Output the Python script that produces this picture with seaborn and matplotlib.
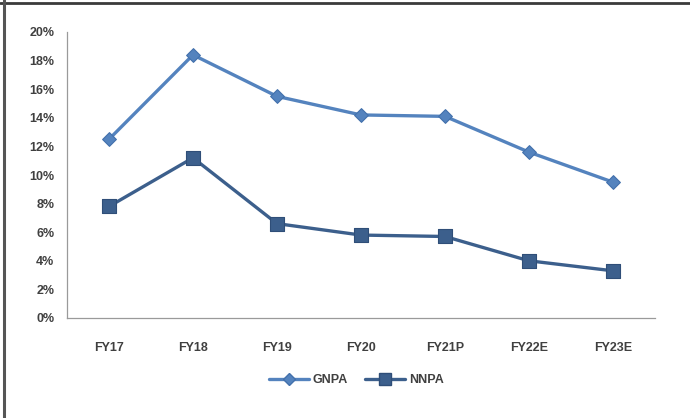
import matplotlib
matplotlib.use("Agg")
import matplotlib.pyplot as plt
from matplotlib.lines import Line2D
from matplotlib.ticker import PercentFormatter, FixedLocator, NullFormatter
import seaborn as sns
import pandas as pd

years = ["FY17", "FY18", "FY19", "FY20", "FY21P", "FY22E", "FY23E"]
gnpa = [12.5, 18.4, 15.5, 14.2, 14.1, 11.6, 9.5]
nnpa = [7.8, 11.2, 6.6, 5.8, 5.7, 4.0, 3.3]
series_names = ["GNPA", "NNPA"]
y_ticks = [0, 2, 4, 6, 8, 10, 12, 14, 16, 18, 20]

df = pd.DataFrame({
    "year": years * 2,
    "value": gnpa + nnpa,
    "series": [series_names[0]] * len(years) + [series_names[1]] * len(years),
})

sns.set_style("white")
plt.rcParams["font.family"] = ["Liberation Sans", "DejaVu Sans"]

fig = plt.figure(figsize=(6.9, 4.18), dpi=100)
ax = fig.add_axes([67 / 690, 1 - 318 / 418, (655 - 67) / 690, (318 - 32) / 418])

line_colors = {"GNPA": "#5483BE", "NNPA": "#3C5F8C"}
edge_colors = {"GNPA": "#4371AC", "NNPA": "#2F4E78"}
markers = {"GNPA": "D", "NNPA": "s"}
sizes = {"GNPA": 7, "NNPA": 10}

sns.lineplot(data=df, x="year", y="value", hue="series", palette=line_colors,
             sort=False, linewidth=2.4, legend=False, ax=ax)
for name, vals in zip(series_names, [gnpa, nnpa]):
    sns.scatterplot(x=years, y=vals, marker=markers[name], s=sizes[name] ** 2,
                    color=line_colors[name], edgecolor=edge_colors[name],
                    linewidth=0.8, zorder=5, ax=ax, legend=False)

ax.set_xlim(-0.5, len(years) - 0.5)
ax.set_ylim(0, 20)
ax.yaxis.set_major_locator(FixedLocator(y_ticks))
ax.yaxis.set_major_formatter(PercentFormatter(decimals=0))

# category labels centred, tick marks on category boundaries
ax.set_xticks(range(len(years)))
ax.set_xticklabels(years)
ax.tick_params(axis="x", which="major", length=0, pad=17)
ax.set_xticks([i - 0.5 for i in range(len(years) + 1)], minor=True)
ax.xaxis.set_minor_formatter(NullFormatter())
ax.tick_params(axis="x", which="minor", length=4, width=0.8, color="#9A9A9A", direction="out")
ax.tick_params(axis="y", length=4, width=0.8, color="#9A9A9A", direction="out", pad=5)
for lbl in ax.get_xticklabels() + ax.get_yticklabels():
    lbl.set_fontsize(9)
    lbl.set_fontweight("bold")
    lbl.set_color("#404040")

for side in ["top", "right"]:
    ax.spines[side].set_visible(False)
for side in ["left", "bottom"]:
    ax.spines[side].set_color("#9A9A9A")
    ax.spines[side].set_linewidth(0.9)
ax.set_xlabel("")
ax.set_ylabel("")

handles = [
    Line2D([], [], color=line_colors[n], marker=markers[n], markersize=sizes[n] * 0.85,
           markeredgecolor=edge_colors[n], linewidth=2.4, label=n)
    for n in series_names
]
fig.legend(handles=handles, loc="center", bbox_to_anchor=(356 / 690, 1 - 380 / 418),
           ncol=2, frameon=False, handlelength=3.2, columnspacing=1.4, handletextpad=0.3,
           prop={"weight": "bold", "size": 9})
for t in fig.legends[0].get_texts():
    t.set_color("#404040")

# frame lines on the top and left edges of the figure
fig.add_artist(Line2D([0, 1], [1 - 2.5 / 418] * 2, transform=fig.transFigure,
                      color="#3A3A3A", linewidth=2))
fig.add_artist(Line2D([4 / 690] * 2, [0, 1], transform=fig.transFigure,
                      color="#555555", linewidth=2.2))

fig.savefig("out.png", dpi=100)
